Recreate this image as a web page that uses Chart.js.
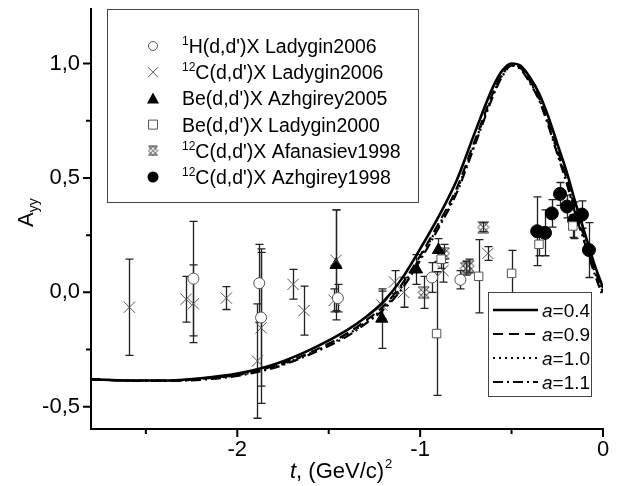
<!DOCTYPE html>
<html>
<head>
<meta charset="utf-8">
<title>Ayy vs t</title>
<script src="https://cdn.jsdelivr.net/npm/chart.js@4.4.1/dist/chart.umd.min.js"></script>
<style>
  html, body { margin: 0; padding: 0; background: #fff; }
  #wrap { width: 617px; height: 486px; position: relative; }
</style>
</head>
<body>
<div id="wrap"><canvas id="chart"></canvas></div>
<script>
// theory curves, A_yy(t) for four values of a
const curveT = [-2.8, -2.6, -2.4, -2.2, -2.0, -1.8, -1.6, -1.4, -1.3, -1.2, -1.1, -1.0, -0.9, -0.8, -0.7, -0.6,
  -0.55, -0.5, -0.45, -0.4, -0.35, -0.3, -0.25, -0.2, -0.15, -0.1, -0.05, 0];
const curveA04 = [-0.38, -0.385, -0.385, -0.375, -0.355, -0.315, -0.25, -0.165, -0.11, -0.04, 0.06, 0.19, 0.33, 0.49, 0.70, 0.90,
  0.97, 1.0, 0.99, 0.94, 0.87, 0.77, 0.65, 0.53, 0.39, 0.26, 0.13, 0.02];
const curveA09 = [-0.38, -0.385, -0.385, -0.378, -0.36, -0.322, -0.262, -0.18, -0.125, -0.06, 0.035, 0.16, 0.30, 0.455, 0.665, 0.875,
  0.955, 0.995, 0.98, 0.925, 0.85, 0.745, 0.625, 0.5, 0.36, 0.235, 0.11, 0.0];
const curveA10 = [-0.38, -0.385, -0.386, -0.38, -0.362, -0.326, -0.266, -0.186, -0.132, -0.068, 0.025, 0.15, 0.29, 0.445, 0.655, 0.868,
  0.95, 0.993, 0.977, 0.92, 0.845, 0.738, 0.615, 0.49, 0.35, 0.225, 0.1, -0.01];
const curveA11 = [-0.38, -0.386, -0.387, -0.382, -0.365, -0.33, -0.27, -0.192, -0.138, -0.075, 0.015, 0.14, 0.28, 0.435, 0.645, 0.86,
  0.945, 0.99, 0.974, 0.915, 0.84, 0.73, 0.605, 0.48, 0.34, 0.215, 0.09, -0.02];

// measurements: t, A_yy, error
const hLadT = [-2.24, -1.88, -1.87, -1.45, -0.935, -0.78];
const hLadA = [0.06, 0.04, -0.11, -0.025, 0.065, 0.055];
const hLadE = [0.25, 0.17, 0.30, 0.06, 0.065, 0.04];

const cLadT = [-2.59, -2.28, -2.24, -2.06, -1.87, -1.89, -1.695, -1.635, -1.47, -1.46, -1.21, -1.14, -1.09, -0.875, -0.63];
const cLadA = [-0.065, -0.03, -0.05, -0.025, -0.155, -0.30, 0.035, -0.08, -0.035, 0.14, -0.055, 0.045, 0.0, 0.095, 0.17];
const cLadE = [0.21, 0.10, 0.17, 0.05, 0.33, 0.25, 0.065, 0.107, 0.05, 0.22, 0.06, 0.05, 0.065, 0.05, 0.03];

const beAzhT = [-1.46, -1.21, -1.02, -0.90];
const beAzhA = [0.12, -0.115, 0.10, 0.185];
const beAzhE = [0.24, 0.13, 0.065, 0.05];

const beLadT = [-0.885, -0.91, -0.68, -0.50, -0.35, -0.165];
const beLadA = [0.145, -0.18, 0.07, 0.083, 0.21, 0.29];
const beLadE = [0.04, 0.27, 0.16, 0.10, 0.05, 0.05];

const cAfaT = [-0.98, -0.87, -0.75, -0.735, -0.655];
const cAfaA = [0.0, 0.17, 0.105, 0.115, 0.285];
const cAfaE = [0.07, 0.04, 0.03, 0.03, 0.02];

const cAzhT = [-0.36, -0.317, -0.28, -0.235, -0.197, -0.158, -0.115, -0.077];
const cAzhA = [0.267, 0.26, 0.345, 0.43, 0.375, 0.315, 0.34, 0.185];
const cAzhE = [0.15, 0.10, 0.06, 0.05, 0.05, 0.08, 0.06, 0.12];

const xTicks = [-2, -1, 0];
const xMinor = [-2.5, -1.5, -0.5];
const yTicks = [-0.5, 0, 0.5, 1.0];
const yMinor = [-0.25, 0.25, 0.75];

const pointLabels = [
  ['1', "H(d,d')X Ladygin2006"],
  ['12', "C(d,d')X Ladygin2006"],
  ['', "Be(d,d')X Azhgirey2005"],
  ['', "Be(d,d')X Ladygin2000"],
  ['12', "C(d,d')X Afanasiev1998"],
  ['12', "C(d,d')X Azhgirey1998"]
];
const curveLabels = ['0.4', '0.9', '1.0', '1.1'];

const FONT = '"Liberation Sans", Arial, sans-serif';

function hatchMarker(size) {
  const c = document.createElement('canvas');
  c.width = size;
  c.height = size;
  const g = c.getContext('2d');
  const o = 1, s = size - 2;
  g.strokeStyle = '#333';
  g.lineWidth = 1;
  g.beginPath();
  g.moveTo(o, o); g.lineTo(o + s, o + s);
  g.moveTo(o + s, o); g.lineTo(o, o + s);
  g.moveTo(o, o); g.lineTo(o + s, o);
  g.moveTo(o, o + s); g.lineTo(o + s, o + s);
  g.moveTo(o + s / 2, o); g.lineTo(o + s, o + s / 2); g.lineTo(o + s / 2, o + s); g.lineTo(o, o + s / 2); g.closePath();
  g.stroke();
  return c;
}
const hatch = hatchMarker(13);
const hatchSmall = hatchMarker(11);

const pts = (xs, ys) => xs.map((x, i) => ({ x: x, y: ys[i] }));

function markerSet(label, xs, ys, es, style) {
  return Object.assign({
    label: label,
    data: pts(xs, ys),
    errors: es,
    showLine: false,
    pointBorderWidth: 1,
    pointHoverRadius: 0
  }, style);
}

function curveSet(label, ys, dash, width) {
  return {
    label: label,
    data: pts(curveT, ys),
    showLine: true,
    borderColor: '#000',
    borderWidth: width,
    borderDash: dash,
    pointRadius: 0,
    cubicInterpolationMode: 'monotone',
    fill: false
  };
}

const datasets = [
  curveSet('a=0.4', curveA04, [], 2.6),
  curveSet('a=0.9', curveA09, [10, 6], 2.2),
  curveSet('a=1.0', curveA10, [2, 4], 2.2),
  curveSet('a=1.1', curveA11, [10, 4, 2, 4], 2.2),
  markerSet(pointLabels[0].join(''), hLadT, hLadA, hLadE, { pointStyle: 'circle', pointRadius: 5.5, borderColor: '#555', backgroundColor: '#fff' }),
  markerSet(pointLabels[1].join(''), cLadT, cLadA, cLadE, { pointStyle: 'crossRot', pointRadius: 8, borderColor: '#555', backgroundColor: '#555' }),
  markerSet(pointLabels[2].join(''), beAzhT, beAzhA, beAzhE, { pointStyle: 'triangle', pointRadius: 7, borderColor: '#000', backgroundColor: '#000' }),
  markerSet(pointLabels[3].join(''), beLadT, beLadA, beLadE, { pointStyle: 'rect', pointRadius: 6, borderColor: '#555', backgroundColor: '#fff' }),
  markerSet(pointLabels[4].join(''), cAfaT, cAfaA, cAfaE, { pointStyle: hatch, pointRadius: 6, borderColor: '#555', backgroundColor: '#fff' }),
  markerSet(pointLabels[5].join(''), cAzhT, cAzhA, cAzhE, { pointStyle: 'circle', pointRadius: 6.5, borderColor: '#000', backgroundColor: '#000' })
];

const errorBars = {
  id: 'errorBars',
  beforeDatasetsDraw(chart) {
    const { ctx, scales: { x, y } } = chart;
    ctx.save();
    ctx.strokeStyle = '#222';
    ctx.lineWidth = 1.3;
    chart.data.datasets.forEach((ds, i) => {
      if (!ds.errors || !chart.isDatasetVisible(i)) return;
      ds.data.forEach((p, j) => {
        const e = ds.errors[j];
        const px = Math.round(x.getPixelForValue(p.x)) + 0.5;
        const top = y.getPixelForValue(p.y + e);
        const bot = y.getPixelForValue(p.y - e);
        ctx.beginPath();
        ctx.moveTo(px, top); ctx.lineTo(px, bot);
        ctx.moveTo(px - 4, top); ctx.lineTo(px + 4, top);
        ctx.moveTo(px - 4, bot); ctx.lineTo(px + 4, bot);
        ctx.stroke();
      });
    });
    ctx.restore();
  }
};

function drawLegendMarker(ctx, idx, x, y) {
  ctx.save();
  ctx.lineWidth = 1;
  ctx.strokeStyle = '#555';
  ctx.fillStyle = '#fff';
  ctx.beginPath();
  if (idx === 0) {
    ctx.arc(x, y, 4.5, 0, Math.PI * 2);
    ctx.fill(); ctx.stroke();
  } else if (idx === 1) {
    ctx.moveTo(x - 5, y - 5); ctx.lineTo(x + 5, y + 5);
    ctx.moveTo(x + 5, y - 5); ctx.lineTo(x - 5, y + 5);
    ctx.stroke();
  } else if (idx === 2) {
    ctx.fillStyle = '#000';
    ctx.moveTo(x, y - 6); ctx.lineTo(x + 6, y + 5); ctx.lineTo(x - 6, y + 5); ctx.closePath();
    ctx.fill();
  } else if (idx === 3) {
    ctx.rect(x - 4.5, y - 4.5, 9, 9);
    ctx.fill(); ctx.stroke();
  } else if (idx === 4) {
    ctx.drawImage(hatchSmall, x - 5.5, y - 5.5);
  } else {
    ctx.fillStyle = '#000';
    ctx.arc(x, y, 5.5, 0, Math.PI * 2);
    ctx.fill();
  }
  ctx.restore();
}

const decorations = {
  id: 'decorations',
  afterDraw(chart) {
    const { ctx, chartArea: a, scales: { x, y } } = chart;
    ctx.save();
    ctx.strokeStyle = '#000';
    ctx.lineWidth = 2;
    ctx.beginPath();
    xTicks.forEach(v => { const p = x.getPixelForValue(v); ctx.moveTo(p, a.bottom); ctx.lineTo(p, a.bottom + 8); });
    xMinor.forEach(v => { const p = x.getPixelForValue(v); ctx.moveTo(p, a.bottom); ctx.lineTo(p, a.bottom + 5); });
    yTicks.forEach(v => { const p = y.getPixelForValue(v); ctx.moveTo(a.left, p); ctx.lineTo(a.left - 8, p); });
    yMinor.forEach(v => { const p = y.getPixelForValue(v); ctx.moveTo(a.left, p); ctx.lineTo(a.left - 5, p); });
    ctx.stroke();

    // legend of the data sets
    ctx.fillStyle = '#fff';
    ctx.fillRect(107.5, 9.5, 311, 193);
    ctx.lineWidth = 1;
    ctx.strokeStyle = '#444';
    ctx.strokeRect(107.5, 9.5, 311, 193);
    ctx.fillStyle = '#000';
    ctx.textBaseline = 'alphabetic';
    pointLabels.forEach((lab, i) => {
      const ry = 46 + i * 26.2;
      drawLegendMarker(ctx, i, 153, ry);
      let tx = 182;
      if (lab[0]) {
        ctx.font = '12px ' + FONT;
        ctx.fillText(lab[0], tx, ry - 1);
        tx += ctx.measureText(lab[0]).width;
      }
      ctx.font = '19.5px ' + FONT;
      ctx.fillText(lab[1], tx, ry + 7);
    });

    // legend of the curves
    ctx.fillStyle = '#fff';
    ctx.fillRect(488.5, 292.5, 103, 104);
    ctx.strokeStyle = '#444';
    ctx.lineWidth = 1;
    ctx.strokeRect(488.5, 292.5, 103, 104);
    curveLabels.forEach((lab, i) => {
      const ry = 310 + i * 24;
      const ds = chart.data.datasets[i];
      ctx.strokeStyle = '#000';
      ctx.lineWidth = ds.borderWidth;
      ctx.setLineDash(ds.borderDash);
      ctx.beginPath();
      ctx.moveTo(493, ry);
      ctx.lineTo(538, ry);
      ctx.stroke();
      ctx.setLineDash([]);
      ctx.fillStyle = '#000';
      ctx.font = 'italic 19px ' + FONT;
      ctx.fillText('a', 542, ry + 7);
      const w = ctx.measureText('a').width;
      ctx.font = '19px ' + FONT;
      ctx.fillText('=' + lab, 542 + w, ry + 7);
    });

    // axis titles
    ctx.fillStyle = '#000';
    let tx = 290;
    ctx.font = 'italic 22px ' + FONT;
    ctx.fillText('t', tx, 478);
    tx += ctx.measureText('t').width;
    ctx.font = '22px ' + FONT;
    ctx.fillText(', (GeV/c)', tx, 478);
    tx += ctx.measureText(', (GeV/c)').width;
    ctx.font = '13px ' + FONT;
    ctx.fillText('2', tx + 1, 468);

    ctx.translate(25, 212);
    ctx.rotate(-Math.PI / 2);
    ctx.font = '22px ' + FONT;
    ctx.fillText('A', -15, 8);
    const aw = ctx.measureText('A').width;
    ctx.font = '14px ' + FONT;
    ctx.fillText('yy', -15 + aw, 13);
    ctx.restore();
  }
};

function noPad(s) {
  s.paddingTop = 0;
  s.paddingBottom = 0;
  s.paddingLeft = 0;
  s.paddingRight = 0;
}

new Chart(document.getElementById('chart'), {
  type: 'scatter',
  data: { datasets: datasets },
  plugins: [errorBars, decorations],
  options: {
    responsive: true,
    maintainAspectRatio: false,
    animation: false,
    layout: { padding: { left: 0, right: 14, top: 0, bottom: 0 } },
    plugins: {
      legend: { display: false },
      title: { display: false },
      tooltip: { enabled: false }
    },
    scales: {
      x: {
        type: 'linear',
        min: -2.8,
        max: 0,
        afterFit: s => { s.height = 57; noPad(s); },
        afterBuildTicks: s => { s.ticks = xTicks.map(v => ({ value: v })); },
        grid: { display: false, drawTicks: false },
        border: { display: true, color: '#000', width: 2 },
        ticks: {
          color: '#000',
          padding: 8,
          maxRotation: 0,
          font: { family: FONT, size: 22 },
          callback: v => String(v)
        }
      },
      y: {
        type: 'linear',
        min: -0.597,
        max: 1.238,
        afterFit: s => { s.width = 91; noPad(s); },
        afterBuildTicks: s => { s.ticks = yTicks.map(v => ({ value: v })); },
        grid: { display: false, drawTicks: false },
        border: { display: true, color: '#000', width: 2 },
        ticks: {
          color: '#000',
          padding: 11,
          font: { family: FONT, size: 22 },
          callback: v => v.toFixed(1).replace('.', ',')
        }
      }
    }
  }
});
</script>
</body>
</html>
